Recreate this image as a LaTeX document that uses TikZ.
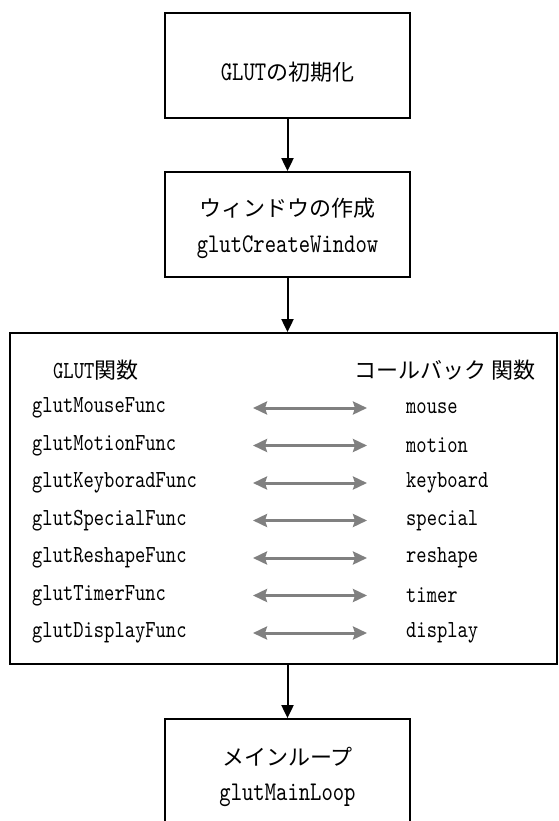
\documentclass[tikz,border=0pt]{standalone}
\usepackage{fontspec}
\newfontfamily\jp{Noto Sans CJK JP}
\newfontfamily\mono{lmmono10-regular.otf}[FakeStretch=0.8]
\usetikzlibrary{arrows.meta}
\definecolor{arrowgray}{HTML}{808080}
\tikzset{
  box/.style={draw=black, line width=1.8pt, minimum width=245pt, minimum height=105pt, inner sep=0pt},
  bigbox/.style={draw=black, line width=1.8pt, minimum width=547pt, minimum height=331pt, inner sep=0pt},
  flow/.style={draw=black, line width=2pt, -{Triangle[length=13pt,width=12pt]}},
  pair/.style={draw=arrowgray, line width=3pt, {Stealth[length=14pt,width=13pt,inset=2pt]}-{Stealth[length=14pt,width=13pt,inset=2pt]}},
  btxt/.style={inner sep=0pt, font=\fontsize{27pt}{30pt}\selectfont\mono},
  rtxt/.style={inner sep=0pt, anchor=west, font=\fontsize{24.5pt}{28pt}\selectfont\mono},
  jtxt/.style={inner sep=0pt, font=\fontsize{22pt}{26pt}\selectfont\jp}
}
\begin{document}
\begin{tikzpicture}[x=1pt,y=-1pt]
\useasboundingbox (0,0) rectangle (558,821);
\clip (0,0) rectangle (558,821);
% boxes
\node[box] (b1) at (287.5,65.5) {};
\node[box] (b2) at (287.5,224.5) {};
\node[bigbox] (b3) at (283.5,498.5) {};
\node[box] (b4) at (287.5,771.5) {};
% box texts
\node[btxt] (t1) at (287.5,72) {GLUT{\jp\fontsize{22pt}{26pt}\selectfont の初期化}};
\node[jtxt] (t2a) at (287.5,208) {ウィンドウの作成};
\node[btxt] (t2b) at (287.5,247) {glutCreateWindow};
\node[jtxt] (t4a) at (287.5,757) {メインループ};
\node[btxt] (t4b) at (287.5,795) {glutMainLoop};
% headers
\node[rtxt] (h1) at (53,370) {GLUT{\jp\fontsize{22pt}{26pt}\selectfont 関数}};
\node[jtxt, anchor=west] (h2) at (354,370) {コールバック\hspace{0.25em}関数};
% rows
\foreach \i/\l/\r in {0/glutMouseFunc/mouse, 1/glutMotionFunc/motion, 2/glutKeyboradFunc/keyboard, 3/glutSpecialFunc/special, 4/glutReshapeFunc/reshape, 5/glutTimerFunc/timer, 6/glutDisplayFunc/display}{
  \node[rtxt] (l\i) at (32,408+37.5*\i) {\l};
  \node[rtxt] (r\i) at (406,408+37.5*\i) {\r};
  \coordinate (al\i) at (253,408+37.5*\i);
  \coordinate (ar\i) at (367,408+37.5*\i);
  \draw[pair] (al\i) -- (ar\i);
}
% flow arrows
\draw[flow] (b1.south) -- (b2.north);
\draw[flow] (b2.south) -- (b3.north -| b2.south);
\draw[flow] (b3.south -| b4.north) -- (b4.north);
\end{tikzpicture}
\end{document}
